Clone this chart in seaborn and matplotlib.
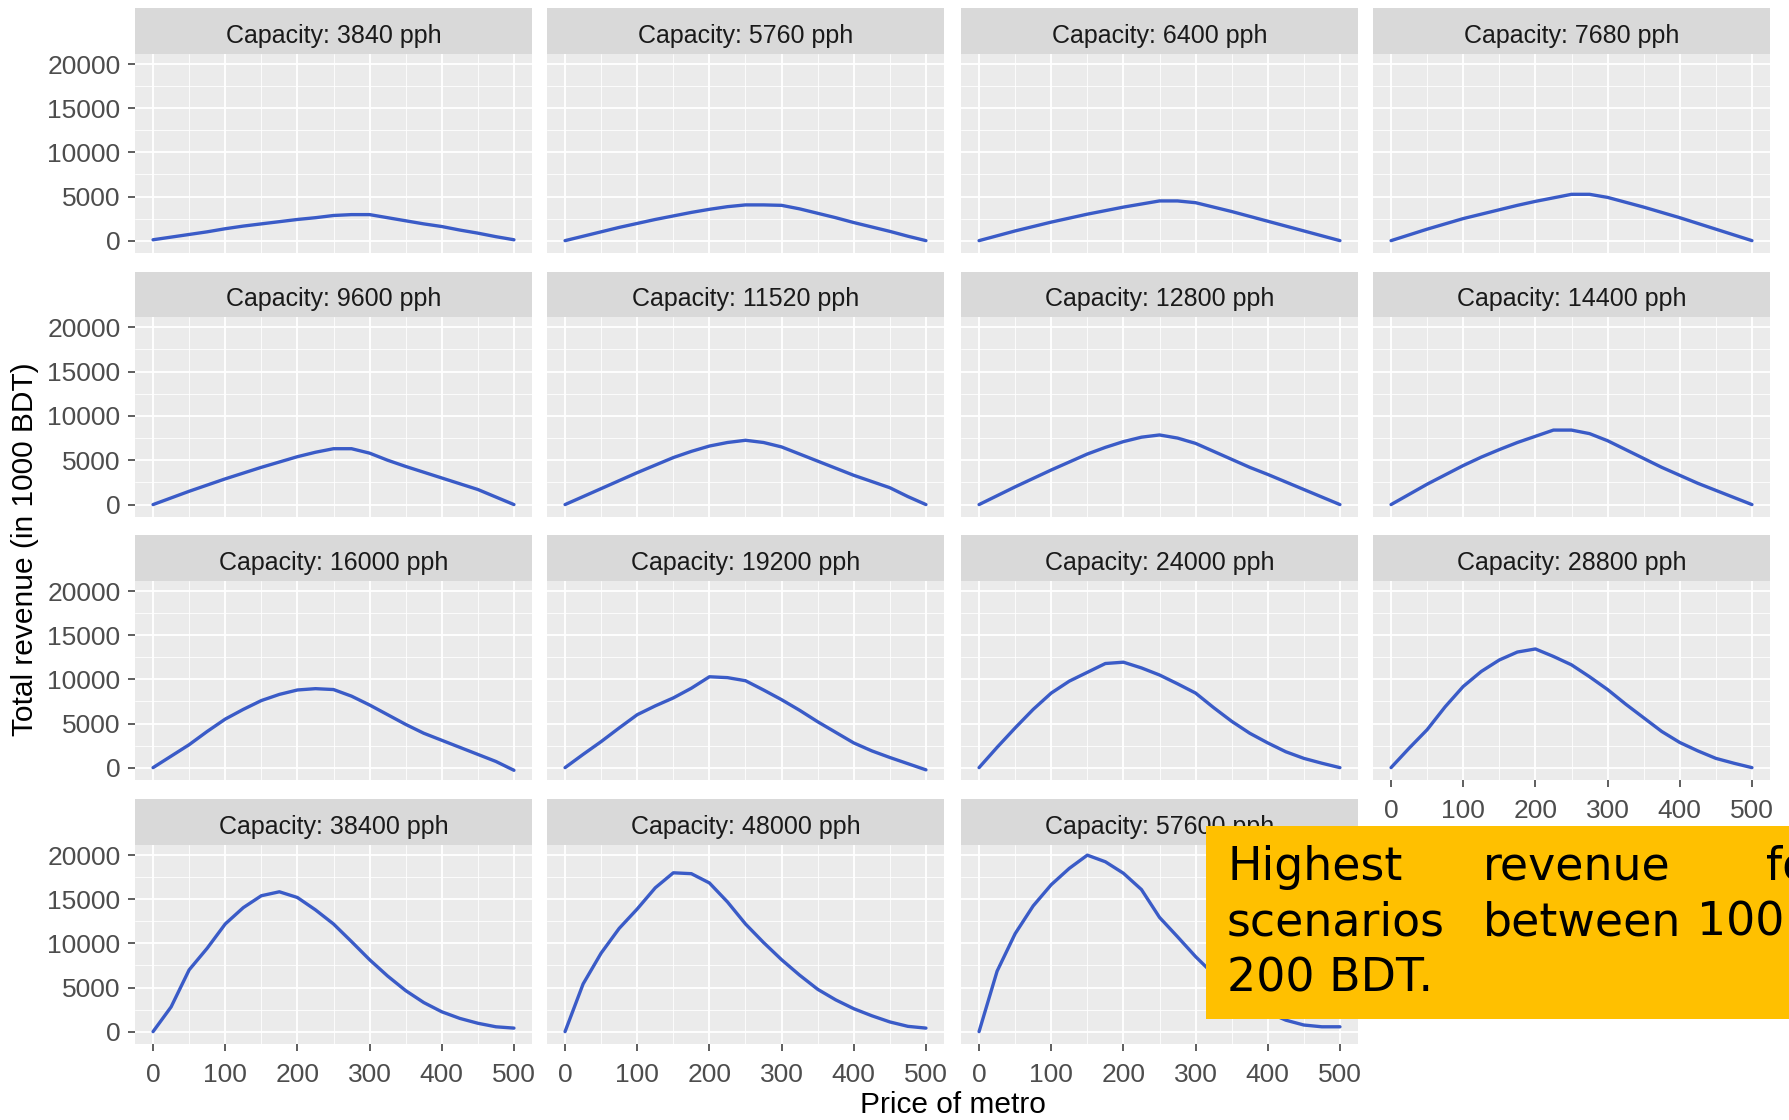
import numpy as np
import pandas as pd
import matplotlib
matplotlib.use("Agg")
import matplotlib.pyplot as plt
import seaborn as sns
from matplotlib.ticker import MultipleLocator
from matplotlib.patches import Rectangle

# ---------------- data ----------------
price = [0, 25, 50, 75, 100, 125, 150, 175, 200, 225, 250,
         275, 300, 325, 350, 375, 400, 425, 450, 475, 500]

capacities = [3840, 5760, 6400, 7680, 9600, 11520, 12800, 14400,
              16000, 19200, 24000, 28800, 38400, 48000, 57600]

rev_3840 = [100, 400, 700, 1000, 1350, 1650, 1900, 2150, 2400, 2600, 2850,
            2950, 2950, 2600, 2250, 1900, 1600, 1200, 850, 450, 100]
rev_5760 = [0, 500, 1000, 1500, 1950, 2400, 2800, 3200, 3550, 3850, 4050,
            4050, 4000, 3600, 3100, 2600, 2050, 1550, 1050, 500, 0]
rev_6400 = [0, 550, 1100, 1600, 2100, 2550, 3000, 3400, 3800, 4150, 4500,
            4500, 4300, 3800, 3300, 2750, 2200, 1650, 1100, 550, 0]
rev_7680 = [0, 650, 1300, 1900, 2500, 3000, 3500, 4000, 4450, 4850, 5250,
            5250, 4900, 4350, 3800, 3200, 2600, 1950, 1300, 650, 0]
rev_9600 = [0, 750, 1500, 2200, 2900, 3550, 4200, 4800, 5400, 5900, 6300,
            6300, 5800, 5000, 4300, 3650, 3000, 2350, 1700, 850, 0]
rev_11520 = [0, 900, 1800, 2700, 3600, 4450, 5300, 6000, 6600, 7000, 7250,
             7000, 6500, 5700, 4900, 4100, 3300, 2600, 1900, 900, 0]
rev_12800 = [0, 1000, 2000, 2950, 3900, 4800, 5700, 6450, 7100, 7600, 7850,
             7500, 6900, 6000, 5100, 4200, 3400, 2550, 1700, 850, 0]
rev_14400 = [0, 1150, 2300, 3350, 4400, 5350, 6200, 7000, 7700, 8400, 8400,
             8000, 7200, 6200, 5200, 4200, 3300, 2400, 1600, 800, 0]
rev_16000 = [0, 1300, 2600, 4100, 5500, 6600, 7600, 8300, 8800, 8950, 8850,
             8100, 7100, 6000, 4900, 3900, 3100, 2300, 1500, 700, -300]
rev_19200 = [0, 1500, 2950, 4500, 6000, 7000, 7900, 9000, 10300, 10200, 9850,
             8800, 7700, 6500, 5200, 4000, 2800, 1900, 1150, 450, -250]
rev_24000 = [0, 2300, 4500, 6600, 8450, 9800, 10800, 11800, 11950, 11300, 10500,
             9500, 8450, 6800, 5250, 3900, 2800, 1800, 1050, 500, 0]
rev_28800 = [0, 2200, 4300, 6900, 9200, 10900, 12200, 13100, 13450, 12600, 11650,
             10300, 8850, 7200, 5650, 4100, 2850, 1900, 1050, 500, 0]
rev_38400 = [0, 2800, 7000, 9450, 12200, 14050, 15400, 15850, 15200, 13800, 12200,
             10200, 8150, 6300, 4650, 3300, 2250, 1500, 950, 550, 400]
rev_48000 = [0, 5400, 8900, 11700, 13900, 16300, 18000, 17900, 16850, 14700, 12200,
             10100, 8150, 6400, 4800, 3600, 2600, 1800, 1100, 600, 400]
rev_57600 = [0, 6850, 11100, 14250, 16650, 18500, 20000, 19250, 17950, 16100, 12950,
             10750, 8500, 6500, 4800, 3400, 2200, 1300, 750, 550, 550]

revenues = [rev_3840, rev_5760, rev_6400, rev_7680, rev_9600, rev_11520,
            rev_12800, rev_14400, rev_16000, rev_19200, rev_24000, rev_28800,
            rev_38400, rev_48000, rev_57600]

x_ticks = [0, 100, 200, 300, 400, 500]
y_ticks = [0, 5000, 10000, 15000, 20000]
strip_fmt = "Capacity: {} pph"
x_title = "Price of metro"
y_title = "Total revenue (in 1000 BDT)"
note_lines = [["Highest", "revenue", "for"],
              ["scenarios", "between", "100"],
              ["200 BDT."]]

rows = []
for cap, rev in zip(capacities, revenues):
    for p, r in zip(price, rev):
        rows.append({"capacity": cap, "price": p, "revenue": r})
df = pd.DataFrame(rows)

# ---------------- style ----------------
sns.set_theme(style="darkgrid", rc={
    "axes.facecolor": "#EBEBEB",
    "grid.color": "white",
    "axes.edgecolor": "none",
})
plt.rcParams["font.family"] = ["Liberation Sans", "DejaVu Sans"]

W, H = 1789, 1120
fig = plt.figure(figsize=(W / 100, H / 100), dpi=100)
fig.patch.set_facecolor("white")

col_left = [135, 547, 961, 1373]
panel_w = 397
row_geo = [(8, 54, 253), (272, 317, 517), (535, 581, 780), (799, 845, 1044)]

line_color = "#3A5BC7"
tick_col = "#4D4D4D"

for i, cap in enumerate(capacities):
    r, c = divmod(i, 4)
    st, pt, pb = row_geo[r]
    lx = col_left[c]
    ax = fig.add_axes([lx / W, 1 - pb / H, panel_w / W, (pb - pt) / H])
    sub = df[df["capacity"] == cap]
    sns.lineplot(data=sub, x="price", y="revenue", ax=ax, color=line_color,
                 linewidth=2.4, estimator=None, sort=True)
    ax.set_xlim(-25, 525)
    ax.set_ylim(-1400, 21150)
    ax.xaxis.set_major_locator(MultipleLocator(100))
    ax.xaxis.set_minor_locator(MultipleLocator(50))
    ax.yaxis.set_major_locator(MultipleLocator(5000))
    ax.yaxis.set_minor_locator(MultipleLocator(2500))
    ax.grid(True, which="major", color="white", linewidth=1.3)
    ax.grid(True, which="minor", color="white", linewidth=0.6)
    ax.set_axisbelow(True)
    for s in ax.spines.values():
        s.set_visible(False)
    ax.set_xlabel("")
    ax.set_ylabel("")
    ax.tick_params(which="minor", length=0)
    ax.tick_params(which="major", length=5, width=1.1, color="#333333",
                   labelsize=19, labelcolor=tick_col)
    ax.tick_params(axis="y", pad=5.5)
    ax.tick_params(axis="x", pad=9)
    ax.set_xticks(x_ticks)
    ax.set_yticks(y_ticks)
    ax.set_yticklabels([str(v) for v in y_ticks])
    ax.set_xticklabels([str(v) for v in x_ticks])
    if c != 0:
        ax.tick_params(axis="y", left=False, labelleft=False)
    else:
        ax.tick_params(axis="y", left=True, labelleft=True)
    if i < len(capacities) - 4:
        ax.tick_params(axis="x", bottom=False, labelbottom=False)
    else:
        ax.tick_params(axis="x", bottom=True, labelbottom=True)

    sax = fig.add_axes([lx / W, 1 - pt / H, panel_w / W, (pt - st) / H])
    sax.set_facecolor("#D9D9D9")
    sax.grid(False)
    sax.set_xticks([])
    sax.set_yticks([])
    for s in sax.spines.values():
        s.set_visible(False)
    sax.text(0.5, 0.4, strip_fmt.format(cap), ha="center", va="center",
             fontsize=18, color="#1A1A1A", transform=sax.transAxes)

fig.text(953 / W, 1 - 1105 / H, x_title, ha="center", va="center",
         fontsize=21.5, color="black")
fig.text(25 / W, 1 - 549 / H, y_title, ha="center", va="center",
         rotation=90, fontsize=21.5, color="black")

# annotation box
box = Rectangle((1206 / W, 1 - 1019 / H), (W - 1206) / W + 0.01, (1019 - 826) / H,
                transform=fig.transFigure, facecolor="#FFC000",
                edgecolor="none", zorder=10)
fig.patches.append(box)
word_x = [1227, 1483, 1766]
line_y = [880, 936, 992]
word_x2 = [1227, 1483, 1697]
for li, words in enumerate(note_lines):
    xs = word_x if li == 0 else word_x2
    for wi, wtxt in enumerate(words):
        fig.text(xs[wi] / W, 1 - line_y[li] / H, wtxt, ha="left", va="baseline",
                 fontsize=33, color="black", family=["DejaVu Sans"],
                 zorder=11)

fig.savefig("out.png", dpi=100)
